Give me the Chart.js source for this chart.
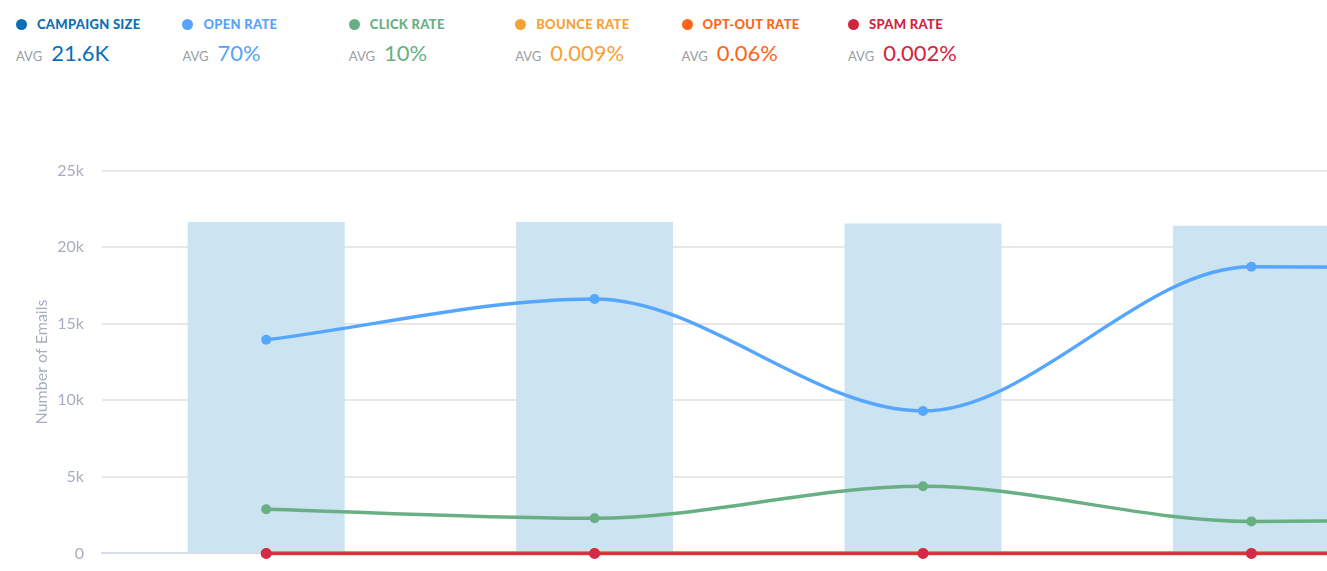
<!DOCTYPE html>
<html>
<head>
<meta charset="utf-8">
<script src="https://cdn.jsdelivr.net/npm/chart.js@4/dist/chart.umd.min.js"></script>
<style>
  html, body { margin: 0; padding: 0; background: #fff; overflow: hidden; width: 1327px; height: 571px; }
  .stat { position: absolute; top: 14px; font-family: Lato, "Open Sans", sans-serif; }
  .stat .name { font-weight: 900; font-size: 13px; letter-spacing: 0.3px; height: 20px; line-height: 20px; white-space: nowrap; }
  .stat .dot { display: inline-block; width: 11px; height: 11px; border-radius: 50%; margin-right: 10px; vertical-align: -1px; margin-left: 6px; }
  .stat .avg { margin-top: 5px; white-space: nowrap; }
  .stat .avg small { font-size: 13px; color: #9a9ea6; margin-right: 9px; }
  .stat .avg span { font-size: 22px; }
  #wrap { position: absolute; left: 0; top: 143px; width: 1752px; height: 438px; }
</style>
</head>
<body>
<div id="stats"></div>
<div id="wrap"><canvas id="emailChart"></canvas></div>
<script>
const statNames = ["CAMPAIGN SIZE", "OPEN RATE", "CLICK RATE", "BOUNCE RATE", "OPT-OUT RATE", "SPAM RATE"];
const statAvgs = ["21.6K", "70%", "10%", "0.009%", "0.06%", "0.002%"];
const statColors = ["#0b6fb6", "#55a3fb", "#67b083", "#f7a136", "#fd6518", "#d3243f"];

const campaigns = ["Campaign 1", "Campaign 2", "Campaign 3", "Campaign 4", "Campaign 5"];
const campaignSize = [21650, 21650, 21550, 21400, 21500];
const opened = [13950, 16620, 9300, 18720, 18600];
const clicked = [2880, 2290, 4380, 2090, 2250];
const bounced = [2, 2, 2, 2, 2];
const optedOut = [13, 13, 13, 13, 13];
const spam = [0.4, 0.4, 0.4, 0.4, 0.4];
const yTicks = [0, 5000, 10000, 15000, 20000, 25000];

const C = {
  bar: "#cce3f1",
  open: "#55a6ff",
  click: "#68b084",
  bounce: "#f7a336",
  optout: "#ff6414",
  spam: "#d42a45",
  tick: "#a6aebf",
  grid: "#e8e8ea",
  zero: "#d6dce8"
};

// header legend
const stats = document.getElementById("stats");
statNames.forEach((n, i) => {
  const d = document.createElement("div");
  d.className = "stat";
  d.style.left = (10 + i * 166.4) + "px";
  d.innerHTML = '<div class="name" style="color:' + statColors[i] + '"><span class="dot" style="background:' + statColors[i] + '"></span>' + n + '</div>' +
    '<div class="avg" style="margin-left:6px"><small>AVG</small><span style="color:' + statColors[i] + '">' + statAvgs[i] + '</span></div>';
  stats.appendChild(d);
});

function lineSet(label, data, color, width, order, radius) {
  return {
    type: "line",
    label: label,
    data: data,
    borderColor: color,
    backgroundColor: color,
    borderWidth: width,
    pointRadius: radius,
    pointBorderWidth: 0,
    cubicInterpolationMode: "monotone",
    fill: false,
    clip: false,
    order: order
  };
}

new Chart(document.getElementById("emailChart"), {
  type: "bar",
  data: {
    labels: campaigns,
    datasets: [
      {
        type: "bar",
        label: "Campaign Size",
        data: campaignSize,
        backgroundColor: C.bar,
        categoryPercentage: 1,
        barPercentage: 0.478,
        order: 10
      },
      lineSet("Open Rate", opened, C.open, 3.5, 5, 5),
      lineSet("Click Rate", clicked, C.click, 3.5, 4, 5),
      lineSet("Bounce Rate", bounced, C.bounce, 3, 3, 5),
      lineSet("Opt-out Rate", optedOut, C.optout, 4, 2, 5),
      lineSet("Spam Rate", spam, C.spam, 2.5, 1, 5.5)
    ]
  },
  options: {
    responsive: true,
    maintainAspectRatio: false,
    animation: false,
    layout: { padding: { top: 5, bottom: 8, right: 8, left: 0 } },
    plugins: {
      legend: { display: false },
      tooltip: { enabled: false }
    },
    scales: {
      x: {
        offset: true,
        afterFit: axis => { axis.height = 0; },
        ticks: { display: false },
        grid: { display: false, drawTicks: false },
        border: { display: true, color: C.zero, width: 2 }
      },
      y: {
        min: 0,
        max: 25000,
        afterBuildTicks: axis => { axis.ticks = yTicks.map(v => ({ value: v })); },
        afterFit: axis => { axis.width = 102; },
        ticks: {
          color: C.tick,
          padding: 18,
          font: { family: "Lato", size: 16 },
          callback: v => v === 0 ? "0" : (v / 1000) + "k"
        },
        grid: { color: C.grid, lineWidth: 2, drawTicks: false },
        border: { display: false },
        title: {
          display: true,
          text: "Number of Emails",
          color: C.tick,
          font: { family: "Lato", size: 16 },
          padding: { top: 32, bottom: 0 }
        }
      }
    }
  }
});
</script>
</body>
</html>
